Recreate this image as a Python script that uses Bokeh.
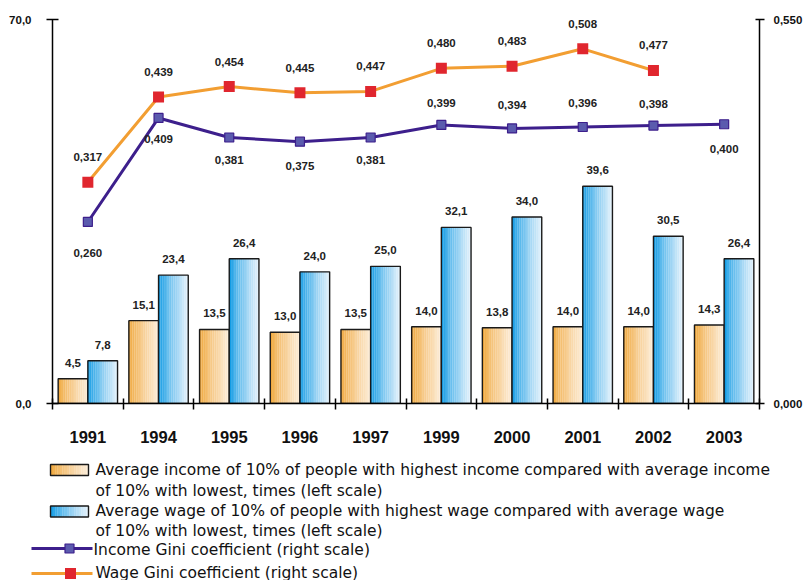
import numpy as np
from bokeh.plotting import figure
from bokeh.models import (Range1d, LinearAxis, FixedTicker, ColumnDataSource)
from bokeh.core.properties import value
from bokeh.embed import file_html
from bokeh.resources import INLINE

# ---------------- data ----------------
years = ["1991", "1994", "1995", "1996", "1997", "1999", "2000", "2001", "2002", "2003"]
income_ratio = [4.5, 15.1, 13.5, 13.0, 13.5, 14.0, 13.8, 14.0, 14.0, 14.3]
wage_ratio = [7.8, 23.4, 26.4, 24.0, 25.0, 32.1, 34.0, 39.6, 30.5, 26.4]
income_gini = [0.260, 0.409, 0.381, 0.375, 0.381, 0.399, 0.394, 0.396, 0.398, 0.400]
wage_gini = [0.317, 0.439, 0.454, 0.445, 0.447, 0.480, 0.483, 0.508, 0.477, None]

left_ticks = [0, 70]
right_ticks = [0, 0.55]

legend_labels = [
    ["Average income of 10% of people with highest income compared with average income",
     "of 10% with lowest, times (left scale)"],
    ["Average wage of 10% of people with highest wage compared with average wage",
     "of 10% with lowest, times (left scale)"],
    ["Income Gini coefficient (right scale)"],
    ["Wage Gini coefficient (right scale)"],
]

# ---------------- style ----------------
FONT = "Liberation Sans"
LEG_FONT = "DejaVu Sans"
ORANGE_L, ORANGE_R = (240, 168, 62), (252, 236, 214)
BLUE_L, BLUE_R = (20, 156, 228), (226, 241, 251)
LINE_ORANGE = "#F29E32"
RED = "#E0262E"
PURPLE = "#3D1F8C"
PURPLE_FILL = "#5B5BAE"
BAR_W = 0.42
BAR_OFF = 0.21
NSTRIP = 16
# label offsets (px) for Gini values: negative = above marker
income_label_dy = [31, 21, 23, 24, 23, -22, -23, -24, -22, 25]
wage_label_dy = [-25, -25, -25, -25, -25, -25, -25, -25, -25, -25]


def mix(c1, c2, t):
    t = t ** 0.8
    return "#%02x%02x%02x" % tuple(int(round(a + (b - a) * t)) for a, b in zip(c1, c2))


def fmt(v, nd):
    return ("%.*f" % (nd, v)).replace(".", ",")


n = len(years)
xc = np.arange(n) + 0.5

p = figure(width=805, height=455, output_backend="svg", toolbar_location=None,
           x_range=Range1d(0, n), y_range=Range1d(0, 70),
           min_border_left=52, min_border_right=43, min_border_top=19, min_border_bottom=52)
p.extra_y_ranges = {"gini": Range1d(0, 0.55)}
p.outline_line_color = None
p.grid.visible = False
p.background_fill_color = "white"

# bars with horizontal gradient built from thin strips
for vals, off, cl, cr in [(income_ratio, -BAR_OFF, ORANGE_L, ORANGE_R),
                          (wage_ratio, BAR_OFF, BLUE_L, BLUE_R)]:
    sw = BAR_W / NSTRIP
    for k in range(NSTRIP):
        t = k / (NSTRIP - 1)
        p.vbar(x=xc + off - BAR_W / 2 + sw * (k + 0.5), top=vals, bottom=0,
               width=sw * 1.06, fill_color=mix(cl, cr, t), line_color=None)
    p.vbar(x=xc + off, top=vals, bottom=0, width=BAR_W, fill_color=None,
           line_color="#1a1a1a", line_width=1.4)

# bar value labels
for vals, off in [(income_ratio, -BAR_OFF), (wage_ratio, BAR_OFF)]:
    p.text(x=xc + off, y=vals, text=[fmt(v, 1) for v in vals],
           text_font=value(FONT), text_font_style="bold", text_font_size="11.5px",
           text_align="center", text_baseline="middle", y_offset=-16, text_color="#222222")

# Gini lines
wg = [np.nan if v is None else v for v in wage_gini]
p.line(xc, wg, y_range_name="gini", line_color=LINE_ORANGE, line_width=3)
p.line(xc, income_gini, y_range_name="gini", line_color=PURPLE, line_width=3)
p.scatter(xc, income_gini, y_range_name="gini", marker="square", size=9,
          fill_color=PURPLE_FILL, line_color=PURPLE, line_width=1.2)
p.scatter(xc, wg, y_range_name="gini", marker="square", size=11,
          fill_color=RED, line_color=None)

src_i = ColumnDataSource(dict(x=xc, y=income_gini, t=[fmt(v, 3) for v in income_gini],
                              dy=income_label_dy))
p.text(x="x", y="y", text="t", y_offset="dy", source=src_i, y_range_name="gini",
       text_font=value(FONT), text_font_style="bold", text_font_size="11.5px",
       text_align="center", text_baseline="middle", text_color="#222222")
wx = [x for x, v in zip(xc, wage_gini) if v is not None]
wv = [v for v in wage_gini if v is not None]
src_w = ColumnDataSource(dict(x=wx, y=wv, t=[fmt(v, 3) for v in wv],
                              dy=wage_label_dy[:len(wv)]))
p.text(x="x", y="y", text="t", y_offset="dy", source=src_w, y_range_name="gini",
       text_font=value(FONT), text_font_style="bold", text_font_size="11.5px",
       text_align="center", text_baseline="middle", text_color="#222222")

# axes
xa = p.xaxis[0]
xa.ticker = FixedTicker(ticks=list(xc), minor_ticks=list(range(n + 1)))
xa.major_label_overrides = {float(x): y for x, y in zip(xc, years)}
xa.major_tick_in = 0
xa.major_tick_out = 0
xa.minor_tick_in = 5
xa.minor_tick_out = 6
xa.minor_tick_line_color = "black"
xa.minor_tick_line_width = 1.5
xa.axis_line_width = 1.5
xa.axis_line_color = "black"
xa.major_label_standoff = 21
xa.major_label_text_font = FONT
xa.major_label_text_font_style = "bold"
xa.major_label_text_font_size = "16.5px"
xa.major_label_text_color = "#111111"

ya = p.yaxis[0]
ya.ticker = FixedTicker(ticks=left_ticks, minor_ticks=[])
ya.major_label_overrides = {t: fmt(t, 1) for t in left_ticks}
ya.major_tick_in = 6
ya.major_tick_out = 6
ya.major_tick_line_width = 1.5
ya.axis_line_width = 1.5
ya.major_label_standoff = 15
ya.major_label_text_font = FONT
ya.major_label_text_font_style = "bold"
ya.major_label_text_font_size = "11.5px"
ya.major_label_text_color = "#111111"

ra = LinearAxis(y_range_name="gini", ticker=FixedTicker(ticks=right_ticks, minor_ticks=[]))
ra.major_label_overrides = {t: fmt(t, 3) for t in right_ticks}
ra.major_tick_in = 4
ra.major_tick_out = 5
ra.major_tick_line_width = 1.5
ra.axis_line_width = 1.5
ra.major_label_standoff = 9
ra.major_label_text_font = FONT
ra.major_label_text_font_style = "bold"
ra.major_label_text_font_size = "11.5px"
ra.major_label_text_color = "#111111"
p.add_layout(ra, "right")

# ---------------- legend figure (page-pixel coordinates) ----------------
lg = figure(width=805, height=125, output_backend="svg", toolbar_location=None,
            x_range=Range1d(0, 805), y_range=Range1d(580, 455),
            min_border=0, min_border_left=0, min_border_right=0,
            min_border_top=0, min_border_bottom=0)
lg.axis.visible = False
lg.grid.visible = False
lg.outline_line_color = None

sw_x0, sw_x1 = 50, 88
swatch_y = [469.5, 511]
for (cl, cr), yy in zip([(ORANGE_L, ORANGE_R), (BLUE_L, BLUE_R)], swatch_y):
    step = (sw_x1 - sw_x0) / NSTRIP
    for k in range(NSTRIP):
        t = k / (NSTRIP - 1)
        lg.rect(x=sw_x0 + step * (k + 0.5), y=yy, width=step * 1.08, height=11,
                fill_color=mix(cl, cr, t), line_color=None)
    lg.rect(x=(sw_x0 + sw_x1) / 2, y=yy, width=sw_x1 - sw_x0, height=11,
            fill_color=None, line_color="#1a1a1a", line_width=1.4)

lg.line([31, 92], [548, 548], line_color=PURPLE, line_width=3)
lg.scatter([69], [548], marker="square", size=9, fill_color=PURPLE_FILL,
           line_color=PURPLE, line_width=1.2)
lg.line([31, 92], [573, 573], line_color=LINE_ORANGE, line_width=3)
lg.scatter([70], [573], marker="square", size=11, fill_color=RED, line_color=None)

text_rows = [(95, 469, legend_labels[0][0]), (95, 490, legend_labels[0][1]),
             (95, 510, legend_labels[1][0]), (95, 530, legend_labels[1][1]),
             (93, 549, legend_labels[2][0]), (95, 572, legend_labels[3][0])]
lg.text(x=[r[0] for r in text_rows], y=[r[1] for r in text_rows],
        text=[r[2] for r in text_rows], text_font=value(LEG_FONT),
        text_font_size="15.5px", text_align="left", text_baseline="middle",
        text_color="#111111")

open("out.html", "w").write(file_html([p, lg], INLINE))
